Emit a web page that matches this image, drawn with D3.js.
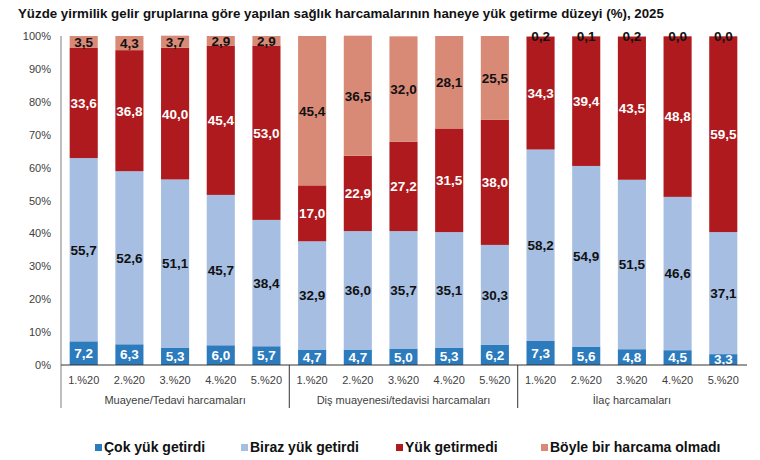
<!DOCTYPE html>
<html><head><meta charset="utf-8">
<script src="https://cdn.jsdelivr.net/npm/d3@7"></script>
<style>body{margin:0;background:#fff;} svg{display:block;font-family:"Liberation Sans",Arial,sans-serif;}</style>
</head><body>
<svg id="c" width="760" height="460"></svg>
<script>
const title = "Yüzde yirmilik gelir gruplarına göre yapılan sağlık harcamalarının haneye yük getirme düzeyi (%), 2025";
const groups = ["Muayene/Tedavi harcamaları", "Diş muayenesi/tedavisi harcamaları", "İlaç harcamaları"];
const quintiles = ["1.%20", "2.%20", "3.%20", "4.%20", "5.%20"];
const seriesNames = ["Çok yük getirdi", "Biraz yük getirdi", "Yük getirmedi", "Böyle bir harcama olmadı"];
const seriesColors = ["#2b7bbd", "#a5bee2", "#ae1a1d", "#d98a77"];
const labelColors = ["#ffffff", "#111111", "#ffffff", "#111111"];
const cokYuk = [7.2,6.3,5.3,6.0,5.7, 4.7,4.7,5.0,5.3,6.2, 7.3,5.6,4.8,4.5,3.3];
const birazYuk = [55.7,52.6,51.1,45.7,38.4, 32.9,36.0,35.7,35.1,30.3, 58.2,54.9,51.5,46.6,37.1];
const yukGetirmedi = [33.6,36.8,40.0,45.4,53.0, 17.0,22.9,27.2,31.5,38.0, 34.3,39.4,43.5,48.8,59.5];
const harcamaYok = [3.5,4.3,3.7,2.9,2.9, 45.4,36.5,32.0,28.1,25.5, 0.2,0.1,0.2,0.0,0.0];
const yTicks = [0,10,20,30,40,50,60,70,80,90,100];

const seriesVals = [cokYuk, birazYuk, yukGetirmedi, harcamaYok];
const rows = [];
groups.forEach((g, gi) => quintiles.forEach((q, qi) => {
  const i = gi*5+qi;
  const r = {key: gi+"_"+qi, group: g, q: q};
  seriesNames.forEach((s, si) => r[s] = seriesVals[si][i]);
  rows.push(r);
}));

const svg = d3.select("#c");
const L = 61, R = 746, T = 36, B = 365;
const x = d3.scaleBand().domain(rows.map(d => d.key)).range([L, R]).paddingInner(0.385).paddingOuter(0.19);
const y = d3.scaleLinear().domain([0, 100]).range([B, T]);

svg.append("text").attr("x", 18).attr("y", 18).attr("font-size", 13.3).attr("font-weight", "bold").attr("fill", "#111").text(title);

// y axis labels
const yAxis = svg.append("g").attr("transform", `translate(${L},0)`).call(d3.axisLeft(y).tickValues(yTicks).tickFormat(d => d + "%").tickSize(0).tickPadding(10));
yAxis.select(".domain").remove();
yAxis.selectAll("text").attr("font-size", 11).attr("fill", "#404040").attr("font-family", "Liberation Sans, Arial, sans-serif");

const stack = d3.stack().keys(seriesNames)(rows);
stack.forEach((layer, si) => {
  const g = svg.append("g");
  g.selectAll("rect").data(layer).join("rect")
    .attr("x", d => x(d.data.key)).attr("width", x.bandwidth())
    .attr("y", d => y(d[1])).attr("height", d => y(d[0]) - y(d[1]))
    .attr("fill", seriesColors[si]);
  g.selectAll("text").data(layer).join("text")
    .attr("x", d => x(d.data.key) + x.bandwidth()/2)
    .attr("y", d => y((d[0]+d[1])/2))
    .attr("dy", "0.36em")
    .attr("text-anchor", "middle").attr("font-size", 13.5).attr("font-weight", "bold")
    .attr("fill", labelColors[si])
    .text(d => d3.format(".1f")(d.data[seriesNames[si]]).replace(".", ","));
});

// axes lines
const axisColor = "#7f7f7f";
svg.append("line").attr("x1", L).attr("x2", L).attr("y1", T).attr("y2", 408).attr("stroke", axisColor);
svg.append("line").attr("x1", L).attr("x2", R+1).attr("y1", B).attr("y2", B).attr("stroke", "#333");
[1, 2].forEach(gi => {
  const k = rows[gi*5].key;
  const xs = x(k) - x.step()*x.paddingInner()/2;
  svg.append("line").attr("x1", xs).attr("x2", xs).attr("y1", B).attr("y2", 408).attr("stroke", "#333");
});

// category labels
svg.append("g").selectAll("text").data(rows).join("text")
  .attr("x", d => x(d.key) + x.bandwidth()/2).attr("y", 384)
  .attr("text-anchor", "middle").attr("font-size", 11).attr("fill", "#404040").text(d => d.q);
svg.append("g").selectAll("text").data(groups).join("text")
  .attr("x", (g, gi) => (x(rows[gi*5].key) + x(rows[gi*5+4].key) + x.bandwidth())/2).attr("y", 404)
  .attr("text-anchor", "middle").attr("font-size", 11).attr("fill", "#404040").text(g => g);

// legend
const legX = [95, 241, 396, 541];
const leg = svg.append("g");
seriesNames.forEach((s, si) => {
  leg.append("rect").attr("x", legX[si]).attr("y", 444).attr("width", 7).attr("height", 7).attr("fill", seriesColors[si]);
  leg.append("text").attr("x", legX[si] + 9).attr("y", 452).attr("font-size", 14).attr("font-weight", "bold").attr("fill", "#111").text(s);
});
</script>
</body></html>
